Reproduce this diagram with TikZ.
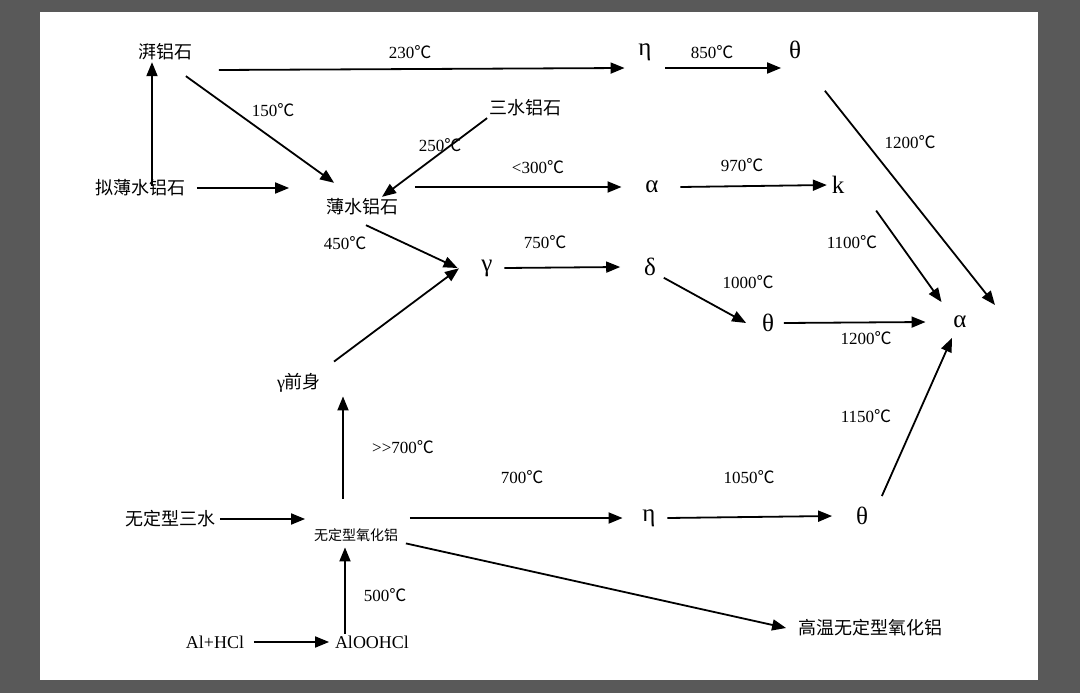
\documentclass[tikz,border=0pt]{standalone}
\usepackage{fontspec}
\setmainfont{Liberation Serif}
\newfontfamily\cjk{Noto Sans CJK SC}
\usetikzlibrary{arrows.meta}
\newcommand\cel[1]{#1{\cjk\char"2103}}

\begin{document}
\begin{tikzpicture}[x=1pt,y=-1pt,line width=1.8pt,
  every node/.style={font=\fontsize{18}{20}\selectfont,inner sep=1pt},
  zh/.style={font=\fontsize{18}{20}\selectfont\cjk},
  gr/.style={font=\fontsize{25}{26}\selectfont},
  tmp/.style={font=\fontsize{17}{20}\selectfont},
  conv/.style={-{Triangle[length=14pt,width=11pt]}}]

% frame
\fill[gray!70!black] (0,0) rectangle (1080,693);
\fill[white] (40,12) rectangle (1038,680);
\useasboundingbox (0,0) rectangle (1080,693);

% phases
\node[zh] (bay) at (165,52) {湃铝石};
\node[gr] (eta1) at (645,52) {η};
\node[gr] (the1) at (795,50) {θ};
\node[zh] (gib) at (525,108) {三水铝石};
\node[zh] (pse) at (140,188) {拟薄水铝石};
\node[zh] (boe) at (362,207) {薄水铝石};
\node[gr] (alp1) at (652,187) {α};
\node[gr] (kap) at (838,185) {k};
\node[gr] (gam) at (487,268) {γ};
\node[gr] (del) at (650,267) {δ};
\node[gr] (the2) at (768,323) {θ};
\node[gr] (alp) at (960,322) {α};
\node[zh] (pre) at (299,383) {{\rmfamily γ}前身};
\node[zh] (amt) at (170,519) {无定型三水};
\node[font=\fontsize{14}{16}\selectfont\cjk] (amo) at (356,535) {无定型氧化铝};
\node[gr] (eta2) at (649,518) {η};
\node[gr] (the3) at (862,516) {θ};
\node (alh) at (215,642) {Al+HCl};
\node (aloo) at (372,642) {AlOOHCl};
\node[zh] (hta) at (870,628) {高温无定型氧化铝};

% temperatures
\node[tmp] at (410,52) {\cel{230}};
\node[tmp] at (712,52) {\cel{850}};
\node[tmp] at (273,110) {\cel{150}};
\node[tmp] at (440,145) {\cel{250}};
\node[tmp] at (538,167) {<\cel{300}};
\node[tmp] at (742,165) {\cel{970}};
\node[tmp] at (910,142) {\cel{1200}};
\node[tmp] at (852,242) {\cel{1100}};
\node[tmp] at (345,243) {\cel{450}};
\node[tmp] at (545,242) {\cel{750}};
\node[tmp] at (748,282) {\cel{1000}};
\node[tmp] at (866,338) {\cel{1200}};
\node[tmp] at (403,447) {{>}{>}\cel{700}};
\node[tmp] at (866,416) {\cel{1150}};
\node[tmp] at (522,477) {\cel{700}};
\node[tmp] at (749,477) {\cel{1050}};
\node[tmp] at (385,595) {\cel{500}};

% conversions
\draw[conv] ([shift={(25,18)}]bay.east) -- ([shift={(-12,16)}]eta1.west);
\draw[conv] ([shift={(12,16)}]eta1.east) -- ([shift={(-6,18)}]the1.west);
\draw[conv] ([shift={(22,30)}]the1.south east) -- (995,305);
\draw[conv] ([shift={(-8,14)}]bay.south east) -- ([shift={(10,-14)}]boe.north west);
\draw[conv] (gib.south west) -- ([xshift=20pt]boe.north);
\draw[conv] ([yshift=-8pt]pse.north -| 152,0) -- (bay.south -| 152,0);
\draw[conv] ([xshift=10pt]pse.east) -- ([xshift=-35pt]pse.east -| boe.west);
\draw[conv] ([shift={(15,-20)}]boe.east) -- ([xshift=-22pt]alp1.west);
\draw[conv] ([xshift=20pt]alp1.east) -- ([xshift=-3pt]kap.west);
\draw[conv] ([shift={(30,15)}]kap.south east) -- ([shift={(-10,-12)}]alp.north west);
\draw[conv] ([shift={(4,8)}]boe.south) -- ([xshift=-22pt]gam.west);
\draw[conv] ([xshift=10pt]gam.east) -- ([xshift=-22pt]del.west);
\draw[conv] ([xshift=6pt]del.south east) -- ([xshift=-14pt]the2.west);
\draw[conv] ([xshift=8pt]the2.east) -- ([xshift=-26pt]alp.west);
\draw[conv] ([shift={(35,-10)}]pre.north) -- ([xshift=-28pt,yshift=10pt]gam.south);
\draw[conv] ([shift={(-13,-28)}]amo.north) -- ([shift={(44,2)}]pre.south);
\draw[conv] ([shift={(12,-20)}]the3.east) -- ([xshift=-8pt,yshift=-8pt]alp.south);
\draw[conv] ([xshift=3pt]amt.east) -- ([xshift=-7pt]amo.north west |- amt.east);
\draw[conv] ([xshift=10pt]amo.north east |- eta2.west) -- ([xshift=-18pt]eta2.west);
\draw[conv] ([xshift=10pt]eta2.east) -- ([xshift=-22pt]the3.west);
\draw[conv] ([xshift=-11pt]aloo.north -| amo.south) -- ([xshift=-11pt,yshift=-4pt]amo.south);
\draw[conv] ([xshift=8pt]alh.east) -- ([xshift=-4pt]aloo.west);
\draw[conv] ([xshift=6pt]amo.south east) -- ([xshift=-10pt]hta.west);

\end{tikzpicture}
\end{document}
